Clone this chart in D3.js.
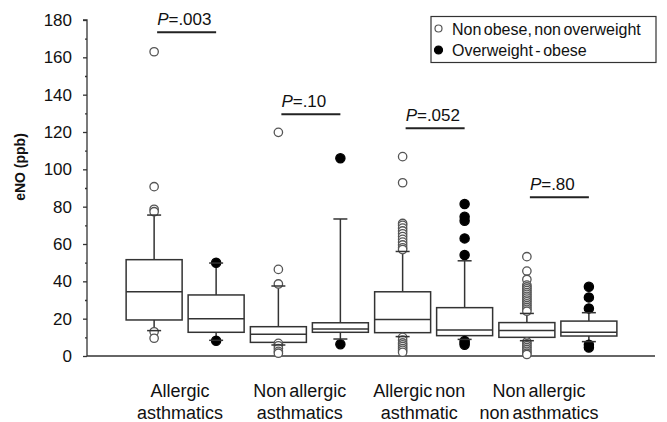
<!DOCTYPE html>
<html>
<head>
<meta charset="utf-8">
<script src="https://cdn.jsdelivr.net/npm/d3@7"></script>
<style>
  html, body { margin: 0; padding: 0; background: #fff; }
  svg { display: block; }
  text { font-family: Arial, "Liberation Sans", sans-serif; fill: #111; }
</style>
</head>
<body>
<svg id="chart" width="667" height="422"></svg>
<script>
// ---------- data ----------
const categories = ["Allergic asthmatics", "Non allergic asthmatics", "Allergic non asthmatic", "Non allergic non asthmatics"];
const categoryLines = [["Allergic", "asthmatics"], ["Non allergic", "asthmatics"], ["Allergic non", "asthmatic"], ["Non allergic", "non asthmatics"]];
const series = ["Non obese, non overweight", "Overweight - obese"];

// Non obese, non overweight
const whiskerLowA  = [13.6, 5.9, 10.4, 8.2];
const q1A          = [19.3, 7.3, 12.5, 10.0];
const medianA      = [34.4, 11.6, 19.6, 13.6];
const q3A          = [51.6, 15.7, 34.4, 17.9];
const whiskerHighA = [75.5, 37.5, 56.0, 22.8];
const outliersA = [
  [163, 90.7, 78.6, 77.3, 13.0, 9.5],
  [119.8, 46.4, 38.6, 6.8, 5.5, 4.0, 2.5, 1.5],
  [106.8, 92.8, 71, 70, 68.5, 67, 65.5, 64, 62.5, 61, 59.5, 58, 57, 10, 8.5, 7, 6, 5, 4, 3, 2],
  [53.2, 45.5, 41, 38, 37, 36, 35, 34, 33, 32, 31, 30, 29, 28, 27, 26, 25, 24, 7.5, 6.5, 5.5, 4.5, 3.5, 2.5, 1.5, 0.8]
];

// Overweight - obese
const whiskerLowB  = [8.4, 9.1, 8.9, 7.7];
const q1B          = [12.7, 12.7, 10.9, 10.7];
const medianB      = [20.0, 14.4, 13.9, 12.7];
const q3B          = [32.7, 17.8, 25.9, 18.7];
const whiskerHighB = [49.8, 73.4, 51.0, 23.2];
const outliersB = [
  [50, 8.2],
  [105.9, 6.3],
  [81.4, 74.6, 72.5, 63, 54.1, 8, 7, 6],
  [37.1, 31.4, 25.5, 6, 4.5]
];

const pLabels = [".003", ".10", ".052", ".80"];
const pBarValue = [173.4, 129.5, 122, 85];

const yTicks = [0, 20, 40, 60, 80, 100, 120, 140, 160, 180];
const yMinorTicks = [10, 30, 50, 70, 90, 110, 130, 150, 170];

// ---------- layout ----------
const svg = d3.select("#chart");
const axisX = 87;
const y = d3.scaleLinear().domain([0, 180]).range([356, 20]);
const x0 = d3.scaleBand().domain(categories).range([123, 620]).padding(0);
const half = 31;
const x1 = d3.scalePoint().domain(series).range([x0.bandwidth() / 2 - half, x0.bandwidth() / 2 + half]);
const xLabel = d3.scalePoint().domain(categories).range([180, 539]);
const boxW = 56, capW = 14;
const stroke = "#333";

// build box table
const boxes = [];
categories.forEach((c, i) => {
  boxes.push({cat: c, s: series[0], lo: whiskerLowA[i], q1: q1A[i], med: medianA[i], q3: q3A[i], hi: whiskerHighA[i], out: outliersA[i], filled: false});
  boxes.push({cat: c, s: series[1], lo: whiskerLowB[i], q1: q1B[i], med: medianB[i], q3: q3B[i], hi: whiskerHighB[i], out: outliersB[i], filled: true});
});
const cx = d => x0(d.cat) + x1(d.s);

// axes
const yAxis = d3.axisLeft(y).tickValues(yTicks).tickSize(4).tickPadding(11).tickFormat(d3.format("d"));
const gy = svg.append("g").attr("transform", `translate(${axisX},0)`).call(yAxis);
gy.select(".domain").attr("stroke", stroke).attr("stroke-width", 1.3).attr("d", `M-4,${y(180)}H0V${y(0)}`);
gy.selectAll(".tick line").attr("stroke", stroke).attr("stroke-width", 1.3);
gy.selectAll(".tick text").style("font-size", "17px").attr("fill", "#111").style("font-family", "Arial, 'Liberation Sans', sans-serif");
const yMinor = d3.axisLeft(y).tickValues(yMinorTicks).tickSize(2).tickFormat("");
const gym = svg.append("g").attr("transform", `translate(${axisX},0)`).call(yMinor);
gym.select(".domain").remove();
gym.selectAll(".tick line").attr("stroke", stroke).attr("stroke-width", 1.3);

svg.append("line").attr("x1", axisX).attr("x2", 655).attr("y1", y(0)).attr("y2", y(0))
  .attr("stroke", stroke).attr("stroke-width", 1.3);

svg.append("text").attr("transform", `translate(25,167) rotate(-90)`)
  .attr("text-anchor", "middle").style("font-size", "14px").style("font-weight", "bold")
  .text("eNO (ppb)");

// boxes
const g = svg.append("g").selectAll("g").data(boxes).join("g");
g.append("line").attr("x1", cx).attr("x2", cx).attr("y1", d => y(d.hi)).attr("y2", d => y(d.q3)).attr("stroke", stroke).attr("stroke-width", 1.5);
g.append("line").attr("x1", cx).attr("x2", cx).attr("y1", d => y(d.q1)).attr("y2", d => y(d.lo)).attr("stroke", stroke).attr("stroke-width", 1.5);
g.append("rect").attr("x", d => cx(d) - boxW / 2).attr("width", boxW)
  .attr("y", d => y(d.q3)).attr("height", d => y(d.q1) - y(d.q3))
  .attr("fill", "#fff").attr("stroke", stroke).attr("stroke-width", 1.5);
g.append("line").attr("x1", d => cx(d) - boxW / 2).attr("x2", d => cx(d) + boxW / 2)
  .attr("y1", d => y(d.med)).attr("y2", d => y(d.med)).attr("stroke", stroke).attr("stroke-width", 1.5);
// outliers
g.selectAll("circle").data(d => d.out.map(v => ({v, d}))).join("circle")
  .attr("cx", o => cx(o.d)).attr("cy", o => y(o.v)).attr("r", o => o.d.filled ? 4.6 : 4.2)
  .attr("fill", o => o.d.filled ? "#000" : "#fff")
  .attr("stroke", o => o.d.filled ? "#000" : "#555").attr("stroke-width", 1.3);
// caps (drawn over points)
["hi", "lo"].forEach(k => {
  g.append("line").attr("x1", d => cx(d) - capW / 2).attr("x2", d => cx(d) + capW / 2)
    .attr("y1", d => y(d[k])).attr("y2", d => y(d[k])).attr("stroke", stroke).attr("stroke-width", 1.5);
});

// P values
categories.forEach((c, i) => {
  const xa = x0(c) + x1(series[0]) + 3, xb = x0(c) + x1(series[1]);
  const yy = y(pBarValue[i]);
  svg.append("line").attr("x1", xa).attr("x2", xb).attr("y1", yy).attr("y2", yy).attr("stroke", "#222").attr("stroke-width", 2);
  const t = svg.append("text").attr("x", xa).attr("y", yy - 7).style("font-size", "17px");
  t.append("tspan").style("font-style", "italic").text("P");
  t.append("tspan").text("=" + pLabels[i]);
});

// category labels
const lab = svg.append("g").selectAll("text").data(categories).join("text")
  .attr("text-anchor", "middle").style("font-size", "18px").style("word-spacing", "-2px")
  .attr("transform", d => `translate(${xLabel(d)},0)`);
lab.each(function(d, i) {
  const t = d3.select(this);
  categoryLines[i].forEach((line, j) => {
    t.append("tspan").attr("x", 0).attr("y", 397 + j * 22).text(line);
  });
});

// legend
const lg = svg.append("g");
lg.append("rect").attr("x", 431).attr("y", 16.5).attr("width", 225).attr("height", 46)
  .attr("fill", "#fff").attr("stroke", stroke).attr("stroke-width", 1.2);
series.forEach((s, i) => {
  const yy = 28.5 + i * 21.5;
  lg.append("circle").attr("cx", 438.5).attr("cy", yy).attr("r", i ? 4 : 3.5)
    .attr("fill", i ? "#000" : "#fff").attr("stroke", i ? "#000" : "#555").attr("stroke-width", 1.2);
  lg.append("text").attr("x", 452).attr("y", yy + 6).style("font-size", "16px").style("word-spacing", "-2px").text(s);
});
</script>
</body>
</html>
